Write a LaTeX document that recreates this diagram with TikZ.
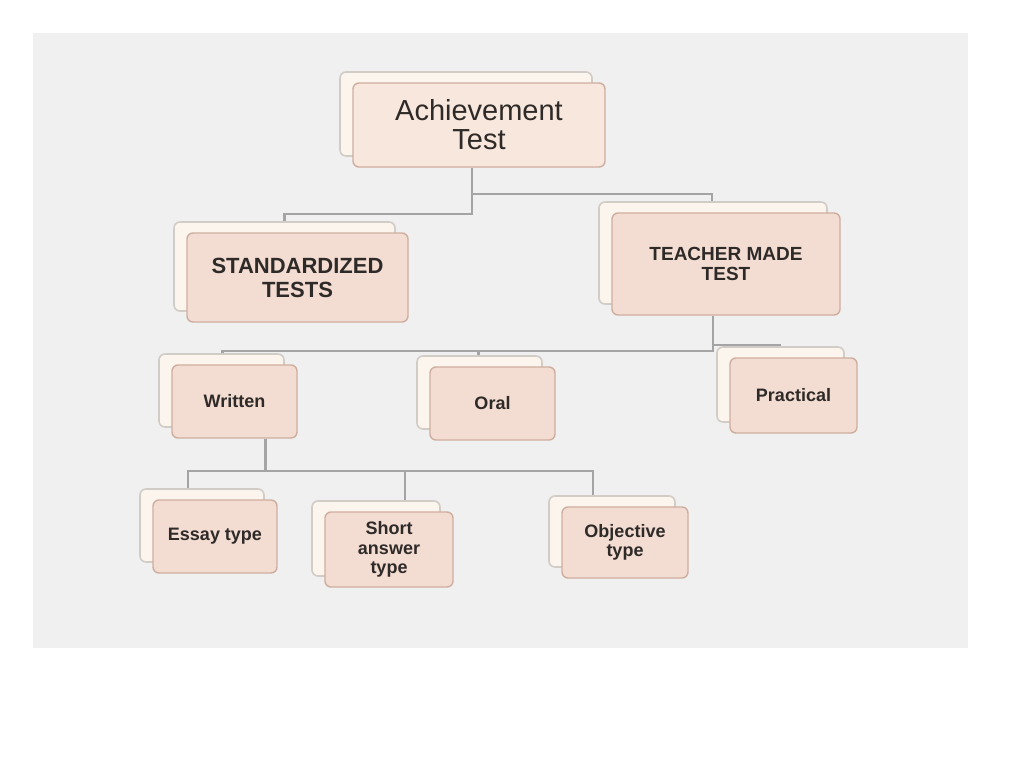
\documentclass[tikz,border=0pt]{standalone}
\usepackage{fontspec}
\setmainfont{Liberation Sans}
\usetikzlibrary{shadows}
\definecolor{bggray}{HTML}{F0F0F0}
\definecolor{frontfill}{HTML}{F3DCD2}
\definecolor{frontline}{HTML}{CFAE9F}
\definecolor{rootfill}{HTML}{F8E7DC}
\definecolor{backfill}{HTML}{FBF5EE}
\definecolor{backline}{HTML}{D2CCC6}
\definecolor{linkgray}{HTML}{A4A4A4}
\definecolor{txt}{HTML}{2E2A28}
\tikzset{
  box/.style={draw=frontline, fill=frontfill, line width=1.4pt, rounded corners=6pt,
    inner sep=0pt, align=center, text=txt, font=\bfseries\fontsize{18}{19.5}\selectfont,
    copy shadow={shadow xshift=-13pt, shadow yshift=11pt, fill=backfill, draw=backline, line width=1.6pt}},
  link/.style={draw=linkgray, line width=2.4pt}
}
\begin{document}
\begin{tikzpicture}[x=1pt, y=-1pt]
			%%%%% START %%%%%
			
			\useasboundingbox (0, 0) rectangle (1024, 768);
			\fill[bggray] (33, 33) rectangle (968, 648);
			
			\node[box, fill=rootfill, minimum width=252pt, minimum height=84pt, font=\fontsize{29}{29}\selectfont] (root) at (479, 125) {Achievement\\Test};
			
			\node[box, minimum width=221pt, minimum height=89pt, font=\bfseries\fontsize{22}{24}\selectfont] (std) at (297.5, 277.5) {STANDARDIZED\\TESTS};
			\node[box, minimum width=228pt, minimum height=102pt, font=\bfseries\fontsize{19}{20}\selectfont] (teacher) at (726, 264) {TEACHER MADE\\TEST};
			
			\node[box, minimum width=125pt, minimum height=73pt] (written) at (234.5, 401.5) {Written};
			\node[box, minimum width=125pt, minimum height=73pt] (oral) at (492.5, 403.5) {Oral};
			\node[box, minimum width=127pt, minimum height=75pt] (practical) at (793.5, 395.5) {Practical};
			
			\node[box, minimum width=124pt, minimum height=73pt] (essay) at (215, 536.5) {Essay type};
			\node[box, minimum width=128pt, minimum height=75pt] (short) at (389, 549.5) {Short\\answer\\type};
			\node[box, minimum width=126pt, minimum height=71pt] (objective) at (625, 542.5) {Objective\\type};
			
			\draw[link] ([xshift=-7pt]root.south) -- ++(0, 46) -| ([xshift=-13pt, yshift=11pt]std.north);
			\draw[link] ([xshift=-7pt]root.south) ++(0, 26) -| ([xshift=-14pt, yshift=11pt]teacher.north);
			
			\draw[link] ([xshift=-13pt]teacher.south) -- ++(0, 35) -| ([xshift=-12pt, yshift=11pt]written.north);
			\draw[link] ([xshift=-13pt]teacher.south) ++(0, 35) -| ([xshift=-14pt, yshift=11pt]oral.north);
			\draw[link] ([xshift=-13pt]teacher.south) ++(0, 29) -| ([xshift=-14pt, yshift=11pt]practical.north);
			
			\draw[link] ([xshift=31pt]written.south) -- ++(0, 32) -| ([xshift=-27pt, yshift=11pt]essay.north);
			\draw[link] ([xshift=31pt]written.south) ++(0, 32) -| ([xshift=16pt, yshift=11pt]short.north);
			\draw[link] ([xshift=31pt]written.south) ++(0, 32) -| ([xshift=-32pt, yshift=11pt]objective.north);
			
			%%%%% END %%%%%
\end{tikzpicture}
\end{document}
